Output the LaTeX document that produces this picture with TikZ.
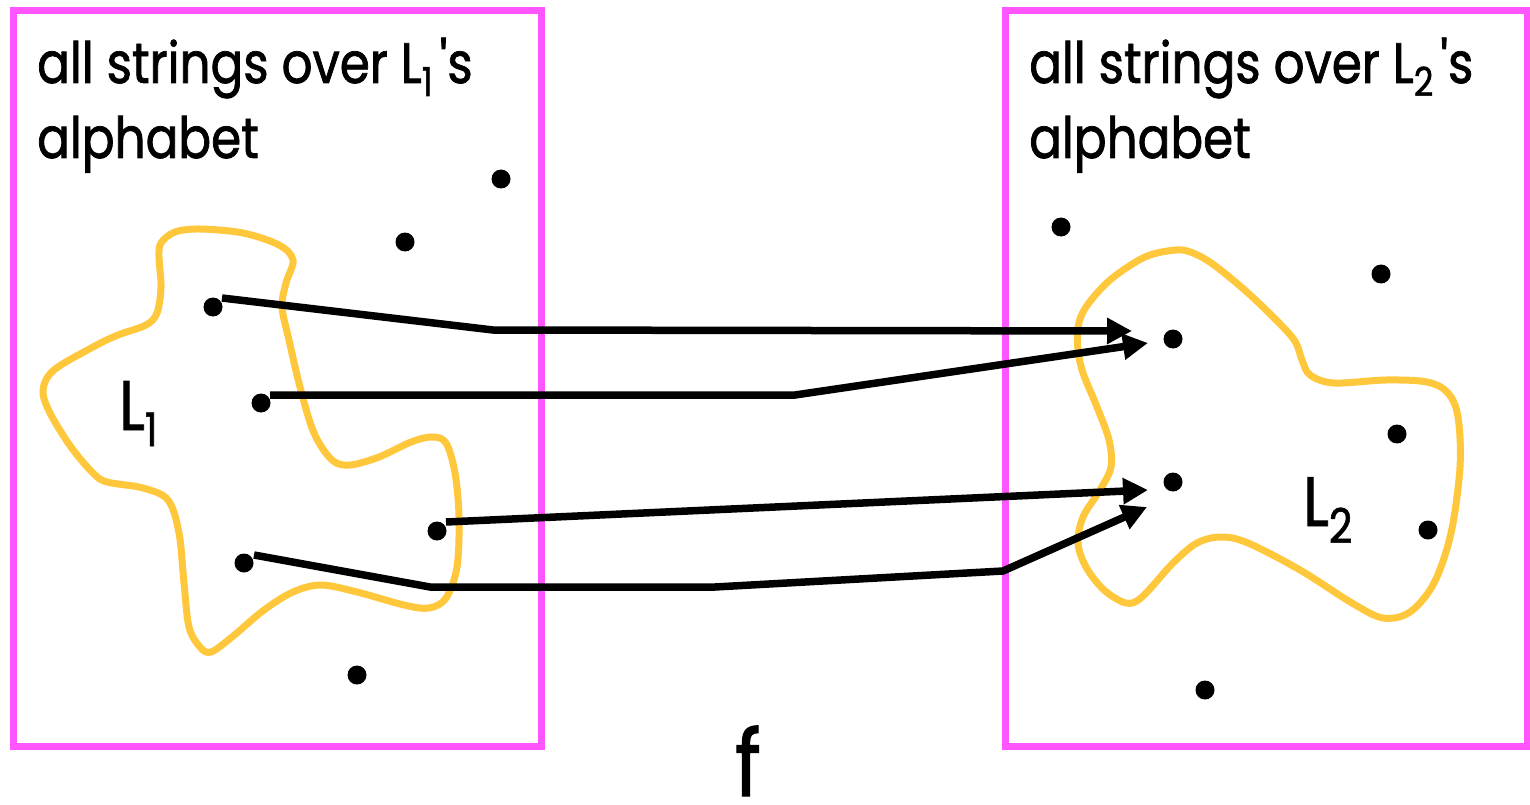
\documentclass[tikz,border=0pt]{standalone}
\usepackage{fontspec}
\setmainfont{Poppins}
\newfontfamily\hdrfont[FakeStretch=0.85,FakeBold=1.3,Ligatures=TeXOff]{Poppins}
\usetikzlibrary{arrows.meta,calc}
\definecolor{boxpink}{RGB}{255,85,255}
\definecolor{blobyellow}{RGB}{255,200,60}
\begin{document}
\begin{tikzpicture}[x=1pt,y=-1pt,
  pinkbox/.style={draw=boxpink,line width=7pt},
  blob/.style={draw=blobyellow,line width=7pt},
  dot/.style={circle,fill=black,inner sep=0pt,minimum size=19pt},
  arr/.style={line width=7.5pt,-{Triangle[length=25pt,width=25pt]}},
  hdr/.style={anchor=base west,inner sep=0pt,font=\hdrfont\fontsize{57}{75}\selectfont},
  lbl/.style={anchor=base west,inner sep=0pt,font=\hdrfont\fontsize{70}{70}\selectfont},
  flbl/.style={anchor=base,inner sep=0pt,font=\hdrfont\fontsize{92}{92}\selectfont}]
\useasboundingbox (0,0) rectangle (1530,805);
\fill[white] (0,0) rectangle (1530,805);
% blobs
\draw[blob] plot[smooth cycle,tension=0.55] coordinates {
 (161,243) (175,232) (200,229) (243,233) (279,245) (293,260) (286,283) (282,307)
 (289,340) (300,387) (314,433) (332,460) (350,465) (379,457) (411,442) (432,437)
 (446,443) (455,473) (459,517) (457,567) (446,598) (429,608) (404,605) (357,592)
 (321,585) (293,592) (264,610) (232,637) (211,652) (200,647) (189,627) (184,583)
 (179,533) (168,500) (143,488) (107,482) (93,473) (71,447) (50,413) (43,390)
 (54,370) (93,347) (118,335) (146,325) (157,313) (161,287) (159,257)};
\draw[blob] plot[smooth cycle,tension=0.55] coordinates {
 (1176,250) (1145,257) (1110,280) (1086,307) (1078,327) (1078,350) (1083,373)
 (1097,407) (1109,440) (1111,467) (1100,490) (1083,517) (1078,543) (1086,567)
 (1104,590) (1126,603) (1142,597) (1173,563) (1197,543) (1221,537) (1248,543)
 (1300,570) (1352,603) (1383,618) (1410,612) (1434,583) (1451,533) (1460,467)
 (1458,417) (1448,393) (1427,382) (1386,380) (1334,383) (1310,375) (1302,360)
 (1296,343) (1283,327) (1248,293) (1214,265) (1193,253)};
% boxes
\draw[pinkbox] (13,11) rectangle (541,746);
\draw[pinkbox] (1005,11) rectangle (1527,746);
% headers
\node[hdr] (h1a) at (37,83) {all strings over L\raisebox{-13pt}{\fontsize{40}{40}\selectfont 1}\hspace{7pt}'s};
\node[hdr] (h1b) at (37,158) {alphabet};
\node[hdr] (h2a) at (1029,83) {all strings over L\raisebox{-13pt}{\fontsize{40}{40}\selectfont 2}\hspace{7pt}'s};
\node[hdr] (h2b) at (1029,158) {alphabet};
% labels
\node[lbl] (L1) at (119,430) {L\raisebox{-16pt}{\fontsize{46}{46}\selectfont 1}};
\node[lbl] (L2) at (1303,526) {L\raisebox{-17pt}{\fontsize{48}{48}\selectfont 2}};
\node[flbl] (f) at (748,796) {f};
% dots left
\node[dot] (l1) at (213,307) {};
\node[dot] (l2) at (261,403) {};
\node[dot] (l3) at (437,531) {};
\node[dot] (l4) at (244,563) {};
\node[dot] (l5) at (405,242) {};
\node[dot] (l6) at (501,179) {};
\node[dot] (l7) at (357,675) {};
% dots right
\node[dot] (r1) at (1173,339) {};
\node[dot] (r2) at (1173,482) {};
\node[dot] (r3) at (1061,227) {};
\node[dot] (r4) at (1381,274) {};
\node[dot] (r5) at (1397,434) {};
\node[dot] (r6) at (1428,530) {};
\node[dot] (r7) at (1205,690) {};
% arrow tips
\coordinate (t1) at ($(r1)+(-41,-8)$);
\coordinate (t2) at ($(r1)+(-25,4)$);
\coordinate (t3) at ($(r2)+(-25,8)$);
\coordinate (t4) at ($(r2)+(-26,25)$);
% arrows
\draw[arr] ($(l1)+(9,-9)$) -- (493,330) -- (t1);
\draw[arr] ($(l2)+(9,-8)$) -- (795,395) -- (t2);
\draw[arr] ($(l3)+(9,-9)$) -- (t3);
\draw[arr] ($(l4)+(10,-8)$) -- (430,587) -- (715,587) -- (1003,571) -- (t4);
\end{tikzpicture}
\end{document}
